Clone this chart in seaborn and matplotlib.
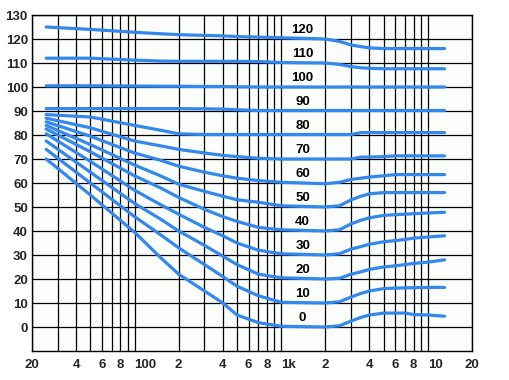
import numpy as np
import pandas as pd
import matplotlib
matplotlib.use("Agg")
import matplotlib.pyplot as plt
import seaborn as sns

# frequencies (Hz) at which the contours were read
freqs = [25, 50, 100, 150, 200, 300, 400, 500, 700, 1000, 2000, 2500,
         3000, 3500, 4000, 5000, 6000, 7000, 8000, 10000, 13000]

# sound pressure level (dB) for each loudness level (phon)
phon_120 = [125, 124, 122.8, 122.2, 121.8, 121.5, 121.3, 121, 120.8, 120.5, 120, 119,
            117.5, 116.8, 116.3, 116, 116, 116, 116, 116, 116]
phon_110 = [112, 112, 111.2, 110.8, 110.7, 110.7, 110.7, 110.7, 110.6, 110.2, 110, 109.4,
            108.5, 108, 107.8, 107.6, 107.6, 107.6, 107.6, 107.6, 107.6]
phon_100 = [100.5, 100.5, 100.4, 100.3, 100.3, 100.2, 100.2, 100.1, 100, 100, 100, 100,
            100, 100, 100, 100, 100, 100, 100, 100, 100]
phon_90 = [91, 91, 91, 91, 91, 90.9, 90.8, 90.5, 90.2, 90.2, 90.2, 90.2,
           90.2, 90.2, 90.2, 90.2, 90.2, 90.2, 90.2, 90.2, 90.2]
phon_80 = [88.5, 87.5, 84, 82, 80.5, 80.2, 80.2, 80.2, 80.2, 80.2, 80.2, 80.2,
           80.2, 81, 81, 81, 81, 81, 81, 81, 81]
phon_70 = [87, 83, 77.5, 75.5, 74, 72.5, 71.5, 71, 70.3, 70, 70, 70,
           70, 70.8, 70.8, 71, 71.3, 71.3, 71.3, 71.3, 71.3]
phon_60 = [85.5, 79.5, 72.5, 69.5, 67, 64.5, 63, 62, 61, 60.3, 59.7, 60.3,
           61.5, 62, 62.5, 63, 63.5, 63.5, 63.5, 63.5, 63.5]
phon_50 = [84, 76, 67.5, 63, 59.5, 56.5, 54.5, 53, 52, 50.5, 50, 50.5,
           53, 54.5, 55.5, 56, 56, 56, 56, 56, 56]
phon_40 = [82.5, 73, 63, 58, 54, 49, 46, 44, 41.5, 40.5, 40, 40.5,
           43, 44.5, 45.5, 46.5, 46.8, 47, 47.2, 47.5, 47.8]
phon_30 = [80.5, 69, 57, 51, 47, 41.5, 38, 35, 32, 30.5, 30, 30.5,
           32.5, 33.5, 34.5, 35.5, 36, 36.5, 37, 37.5, 38]
phon_20 = [77.5, 64.5, 51.5, 45, 40, 34, 29.5, 26, 22, 20.5, 20, 20.3,
           22, 23, 24, 25, 25.5, 26, 26.5, 27, 28]
phon_10 = [74, 60, 46, 38.5, 33, 26, 21, 17, 13, 10.3, 10, 10.5,
           12.5, 14, 15, 16, 16.2, 16.3, 16.4, 16.5, 16.5]
phon_0 = [70, 55, 39.5, 29, 22, 15, 10, 5, 1.8, 0.3, 0, 0.5,
          2.5, 4, 5, 5.8, 5.8, 5.8, 5.2, 5, 4.5]

phons = [120, 110, 100, 90, 80, 70, 60, 50, 40, 30, 20, 10, 0]
curves = [phon_120, phon_110, phon_100, phon_90, phon_80, phon_70, phon_60,
          phon_50, phon_40, phon_30, phon_20, phon_10, phon_0]

xtick_pos = [20, 40, 60, 80, 100, 200, 400, 600, 800, 1000, 2000, 4000,
             6000, 8000, 10000, 20000]
xtick_labels = ["20", "4", "6", "8", "100", "2", "4", "6", "8", "1k", "2", "4",
                "6", "8", "10", "20"]
xgrid_minor = [30, 50, 70, 90, 300, 500, 700, 900, 3000, 5000, 7000, 9000]
yticks = list(range(0, 140, 10))

rows = []
for p, vals in zip(phons, curves):
    for f, v in zip(freqs, vals):
        rows.append({"freq": f, "spl": v, "phon": p})
df = pd.DataFrame(rows)

sns.set_style("white")
plt.rcParams["font.family"] = ["Liberation Sans", "DejaVu Sans"]

fig = plt.figure(figsize=(5.1, 3.8), dpi=100)
ax = fig.add_axes([32 / 510, 1 - 351 / 380, 440 / 510, 336 / 380])
ax.set_facecolor("#fbfdfb")

sns.lineplot(data=df, x="freq", y="spl", hue="phon", units="phon",
             estimator=None, palette=["#3388ee"] * len(phons),
             linewidth=2.3, legend=False, ax=ax, zorder=3)

ax.set_xscale("log")
ax.set_xlim(20, 20000)
ax.set_ylim(-10, 130)
ax.set_xticks(xtick_pos)
ax.set_xticklabels(xtick_labels)
ax.set_xticks(xgrid_minor, minor=True)
ax.set_yticks(yticks)
ax.set_yticklabels([str(t) for t in yticks])
ax.grid(True, which="both", color="black", linewidth=0.9, zorder=1)
ax.set_axisbelow(True)
ax.tick_params(which="both", length=0)
ax.tick_params(axis="y", pad=3)
ax.tick_params(axis="x", pad=6)
for lab in ax.get_xticklabels() + ax.get_yticklabels():
    lab.set_fontweight("bold")
    lab.set_fontsize(9.5)
# the multi-digit decade labels start at their grid line
for lab in ax.get_xticklabels():
    if lab.get_text() in ("100", "1k", "10"):
        lab.set_horizontalalignment("left")
for s in ax.spines.values():
    s.set_color("black")
    s.set_linewidth(1.0)
ax.set_xlabel("")
ax.set_ylabel("")

for p in phons:
    ax.text(1400, p + 3.8, str(p), ha="center", va="center",
            fontsize=9.5, fontweight="bold", color="black", zorder=4)

fig.savefig("out.png", dpi=100, facecolor="white")
